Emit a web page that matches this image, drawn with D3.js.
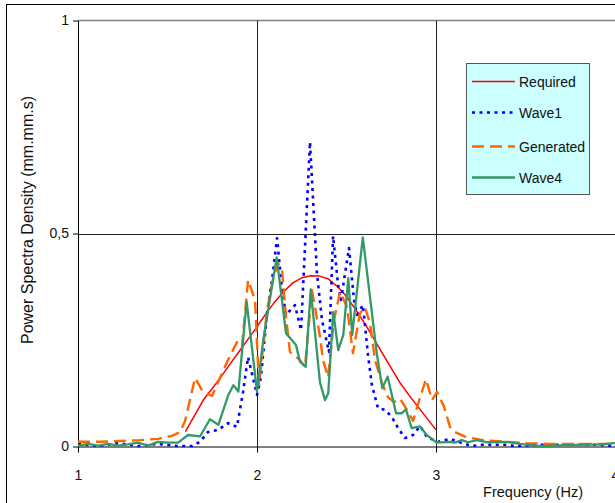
<!DOCTYPE html>
<html>
<head>
<meta charset="utf-8">
<script src="https://cdn.jsdelivr.net/npm/d3@7"></script>
<style>
  html, body { margin: 0; padding: 0; background: #fff; }
  svg { display: block; font-family: "Liberation Sans", Arial, sans-serif; }
</style>
</head>
<body>
<svg id="chart" width="615" height="503"></svg>
<script>
// Power spectral density of the target spectrum, the recorded wave and the generated signals.
const xTicks = [1, 2, 3, 4];
const yTicks = [0, 0.5, 1];
const seriesNames = ["Required", "Wave1", "Generated", "Wave4"];

const requiredFreq = [1.60, 1.65, 1.70, 1.75, 1.80, 1.85, 1.90, 1.95, 2.00, 2.05, 2.10, 2.15, 2.20, 2.25, 2.30,
  2.35, 2.40, 2.45, 2.50, 2.55, 2.60, 2.65, 2.70, 2.75, 2.80, 2.85, 2.90, 2.95, 3.00];
const requiredPsd = [0.035, 0.072, 0.109, 0.136, 0.164, 0.194, 0.223, 0.252, 0.281, 0.312, 0.340, 0.364, 0.384, 0.396, 0.401,
  0.400, 0.393, 0.375, 0.352, 0.322, 0.290, 0.255, 0.219, 0.184, 0.149, 0.120, 0.093, 0.066, 0.039];

const wave1Freq = [1.000, 1.112, 1.223, 1.335, 1.447, 1.559, 1.637, 1.682, 1.726, 1.782, 1.838, 1.888, 1.922, 1.950,
  2.000, 2.022, 2.056, 2.084, 2.112, 2.140, 2.162, 2.212, 2.246, 2.296, 2.335, 2.363, 2.402, 2.425, 2.453, 2.469,
  2.514, 2.542, 2.559, 2.592, 2.620, 2.642, 2.676, 2.715, 2.754, 2.788, 2.827, 2.872, 2.911, 2.950, 3.011, 3.078,
  3.145, 3.201, 3.257, 3.318, 3.385, 3.441, 3.581, 3.749, 3.916, 4.000];
const wave1Psd = [0.006, 0.001, 0.008, 0.001, 0.006, 0.001, 0.001, 0.011, 0.034, 0.039, 0.055, 0.046, 0.128, 0.210,
  0.121, 0.163, 0.313, 0.391, 0.489, 0.367, 0.309, 0.332, 0.273, 0.715, 0.407, 0.297, 0.222, 0.494, 0.379, 0.344,
  0.466, 0.344, 0.309, 0.332, 0.215, 0.144, 0.090, 0.086, 0.069, 0.043, 0.020, 0.027, 0.048, 0.022, 0.011, 0.018,
  0.008, 0.001, 0.004, 0.004, 0.004, 0.001, 0.004, 0.004, 0.004, 0.001];

const generatedFreq = [1.000, 1.123, 1.235, 1.346, 1.447, 1.525, 1.570, 1.598, 1.654, 1.698, 1.749, 1.788, 1.838, 1.888,
  1.916, 1.950, 1.989, 2.011, 2.056, 2.089, 2.117, 2.140, 2.162, 2.184, 2.240, 2.268, 2.307, 2.324, 2.352, 2.369,
  2.397, 2.430, 2.464, 2.503, 2.536, 2.575, 2.603, 2.631, 2.659, 2.698, 2.732, 2.765, 2.799, 2.832, 2.872, 2.911,
  2.944, 2.978, 3.006, 3.045, 3.078, 3.106, 3.168, 3.263, 3.397, 3.508, 3.637, 4.000];
const generatedPsd = [0.011, 0.011, 0.013, 0.015, 0.018, 0.025, 0.034, 0.060, 0.161, 0.128, 0.119, 0.156, 0.203, 0.245,
  0.234, 0.391, 0.344, 0.144, 0.320, 0.391, 0.431, 0.414, 0.304, 0.222, 0.203, 0.187, 0.367, 0.327, 0.257, 0.203,
  0.163, 0.297, 0.363, 0.327, 0.219, 0.313, 0.327, 0.290, 0.203, 0.149, 0.116, 0.104, 0.112, 0.090, 0.060, 0.116,
  0.158, 0.109, 0.128, 0.093, 0.046, 0.034, 0.022, 0.015, 0.011, 0.008, 0.006, 0.006];

const wave4Freq = [1.000, 1.056, 1.112, 1.168, 1.223, 1.279, 1.335, 1.391, 1.447, 1.503, 1.559, 1.615, 1.682, 1.737,
  1.784, 1.840, 1.868, 1.896, 1.942, 2.000, 2.035, 2.110, 2.162, 2.218, 2.240, 2.272, 2.300, 2.352, 2.380, 2.398,
  2.426, 2.454, 2.482, 2.510, 2.532, 2.591, 2.631, 2.669, 2.700, 2.730, 2.777, 2.808, 2.832, 2.864, 2.911, 2.948,
  3.004, 3.078, 3.106, 3.144, 3.180, 3.227, 3.283, 3.395, 3.469, 3.581, 3.730, 3.916, 4.000];
const wave4Psd = [0.002, 0.006, 0.002, 0.006, 0.002, 0.005, 0.009, 0.002, 0.011, 0.009, 0.009, 0.027, 0.024, 0.064,
  0.051, 0.121, 0.144, 0.129, 0.340, 0.129, 0.250, 0.444, 0.266, 0.238, 0.199, 0.187, 0.369, 0.150, 0.109, 0.125,
  0.316, 0.226, 0.262, 0.395, 0.262, 0.491, 0.352, 0.219, 0.137, 0.164, 0.078, 0.078, 0.087, 0.043, 0.047, 0.027,
  0.009, 0.011, 0.009, 0.015, 0.010, 0.015, 0.010, 0.011, 0.006, 0.001, 0.003, 0.005, 0.008];

const series = [
  { name: seriesNames[0], freq: requiredFreq, psd: requiredPsd, color: "#ff0000", width: 1.5, dash: null },
  { name: seriesNames[1], freq: wave1Freq, psd: wave1Psd, color: "#0000ff", width: 2.6, dash: "3,4.5" },
  { name: seriesNames[2], freq: generatedFreq, psd: generatedPsd, color: "#ff6600", width: 2.4, dash: "12,6" },
  { name: seriesNames[3], freq: wave4Freq, psd: wave4Psd, color: "#339966", width: 2.3, dash: null }
];

const svg = d3.select("#chart");
const plotLeft = 78, plotRight = 615, plotTop = 20.5, plotBottom = 446.5;

const x = d3.scaleLinear().domain([1, 4]).range([plotLeft, plotRight]);
const y = d3.scaleLinear().domain([0, 1]).range([plotBottom, plotTop]);

// outer chart frame
svg.append("rect")
  .attr("x", 6.5).attr("y", 4.5)
  .attr("width", 640).attr("height", 520)
  .attr("fill", "#fff").attr("stroke", "#000").attr("stroke-width", 1);

// plot-area top border
svg.append("line")
  .attr("x1", plotLeft).attr("x2", plotRight)
  .attr("y1", y(1)).attr("y2", y(1))
  .attr("stroke", "#808080").attr("stroke-width", 1.5);

// gridlines
svg.append("g")
  .selectAll("line")
  .data(yTicks.filter(d => d > 0 && d < 1))
  .join("line")
  .attr("x1", plotLeft).attr("x2", plotRight)
  .attr("y1", d => Math.round(y(d)) + 0.5).attr("y2", d => Math.round(y(d)) + 0.5)
  .attr("stroke", "#222").attr("stroke-width", 1);

svg.append("g")
  .selectAll("line")
  .data(xTicks.filter(d => d > 1 && d < 4))
  .join("line")
  .attr("x1", d => Math.round(x(d)) + 0.5).attr("x2", d => Math.round(x(d)) + 0.5)
  .attr("y1", plotTop).attr("y2", plotBottom)
  .attr("stroke", "#222").attr("stroke-width", 1);

// axes
const fmt = v => String(v).replace(".", ",");

const xAxis = svg.append("g")
  .attr("transform", `translate(0,${plotBottom})`)
  .call(d3.axisBottom(x).tickValues(xTicks).tickFormat(fmt).tickSize(6).tickSizeOuter(0));
xAxis.select(".domain").attr("stroke", "#000");
xAxis.selectAll("text").attr("font-size", 14).attr("fill", "#111").attr("dy", "1.75em");

const yAxis = svg.append("g")
  .attr("transform", `translate(${plotLeft},0)`)
  .call(d3.axisLeft(y).tickValues(yTicks).tickFormat(fmt).tickSize(5).tickSizeOuter(0));
yAxis.select(".domain").attr("stroke", "#000");
yAxis.selectAll("text").attr("font-size", 14).attr("fill", "#111").attr("x", -9);

// series
const line = d3.line().x(d => x(d[0])).y(d => y(d[1]));
const plot = svg.append("g");
series.forEach(s => {
  plot.append("path")
    .datum(s.freq.map((f, i) => [f, s.psd[i]]))
    .attr("d", line)
    .attr("fill", "none")
    .attr("stroke", s.color)
    .attr("stroke-width", s.width)
    .attr("stroke-dasharray", s.dash)
    .attr("stroke-linejoin", "round");
});

// axis titles
svg.append("text")
  .attr("x", 583).attr("y", 497)
  .attr("text-anchor", "end")
  .attr("font-size", 14.5).attr("fill", "#111")
  .text("Frequency (Hz)");

svg.append("text")
  .attr("transform", "translate(33,220) rotate(-90)")
  .attr("text-anchor", "middle")
  .attr("font-size", 16).attr("fill", "#111")
  .text("Power Spectra Density (mm.mm.s)");

// legend
const legend = svg.append("g");
legend.append("rect")
  .attr("x", 466.5).attr("y", 63.5)
  .attr("width", 123).attr("height", 131)
  .attr("fill", "#ccffff").attr("stroke", "#555").attr("stroke-width", 1);

const legendY = [81.5, 112.5, 146.5, 177.5];
series.forEach((s, i) => {
  legend.append("line")
    .attr("x1", 472).attr("x2", 515)
    .attr("y1", legendY[i]).attr("y2", legendY[i])
    .attr("stroke", s.color)
    .attr("stroke-width", s.width)
    .attr("stroke-dasharray", s.dash);
  legend.append("text")
    .attr("x", 519).attr("y", legendY[i])
    .attr("dy", "0.36em")
    .attr("font-size", 14).attr("fill", "#111")
    .text(s.name);
});
</script>
</body>
</html>
